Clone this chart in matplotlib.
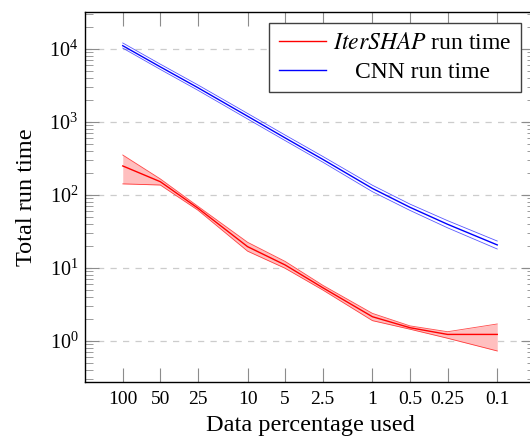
import matplotlib
matplotlib.use("Agg")
import matplotlib.pyplot as plt
import numpy as np

# Data
pct = [100, 50, 25, 10, 5, 2.5, 1, 0.5, 0.25, 0.1]
pct_labels = ["100", "50", "25", "10", "5", "2.5", "1", "0.5", "0.25", "0.1"]

iter_mean = [250, 152, 66, 19.6, 11.0, 5.37, 2.15, 1.52, 1.23, 1.23]
iter_upper = [353, 166, 70, 22.5, 12.3, 5.8, 2.39, 1.61, 1.34, 1.71]
iter_lower = [142, 137, 62, 17.0, 9.9, 5.0, 1.90, 1.45, 1.09, 0.73]

cnn_mean = [11100, 5690, 2950, 1200, 605, 308, 123, 67.8, 39.7, 20.7]
cnn_upper = [12100, 6200, 3220, 1310, 662, 338, 136, 75, 44.5, 23.4]
cnn_lower = [10300, 5250, 2720, 1100, 556, 282, 111, 61.5, 35.5, 18.2]

plt.rcParams['font.family'] = ['Liberation Serif', 'DejaVu Serif']
plt.rcParams['mathtext.fontset'] = 'stix'
FS_TICK = 14
FS_LABEL = 17.5
FS_LEG = 17

fig = plt.figure(figsize=(5.30, 4.42), dpi=100)
ax = fig.add_axes([85.3/530, (442-382.3)/442, 449.4/530, 370.6/442])

ax.set_xscale('log')
ax.set_yscale('log')

# IterSHAP
ax.fill_between(pct, iter_lower, iter_upper, color=(1.0, 0.75, 0.75), lw=0, zorder=2)
ax.plot(pct, iter_upper, color='red', lw=0.6, alpha=0.7, zorder=3)
ax.plot(pct, iter_lower, color='red', lw=0.6, alpha=0.7, zorder=3)
l1, = ax.plot(pct, iter_mean, color='red', lw=1.0, zorder=4)

# CNN
ax.plot(pct, cnn_upper, color='blue', lw=0.6, alpha=0.65, zorder=3)
ax.plot(pct, cnn_lower, color='blue', lw=0.6, alpha=0.65, zorder=3)
l2, = ax.plot(pct, cnn_mean, color='blue', lw=1.0, zorder=4)

ax.set_xlim(10**2.3, 10**-1.3)
ax.set_ylim(10**-0.566, 10**4.511)

ax.set_xticks(pct)
ax.set_xticklabels(pct_labels)
ax.xaxis.set_minor_locator(matplotlib.ticker.NullLocator())
ax.tick_params(axis='x', which='major', direction='in', length=10, width=0.8,
               color=(0.55, 0.55, 0.55), top=True, bottom=True, labelsize=FS_TICK, pad=6)

ax.yaxis.set_major_locator(matplotlib.ticker.LogLocator(base=10, numticks=20))
ax.yaxis.set_minor_locator(matplotlib.ticker.LogLocator(base=10, subs=np.arange(2, 10), numticks=20))
ax.yaxis.set_minor_formatter(matplotlib.ticker.NullFormatter())
ax.tick_params(axis='y', which='major', direction='in', length=10, width=0.8,
               color=(0.55, 0.55, 0.55), left=True, right=True, labelsize=FS_TICK + 0.5, pad=5)
ax.tick_params(axis='y', which='minor', direction='in', length=6, width=0.6,
               color=(0.55, 0.55, 0.55), left=True, right=True)

ax.grid(True, axis='y', which='major', linestyle=(0, (5, 5)), color=(0.8, 0.8, 0.8), lw=0.9)
ax.set_axisbelow(True)

for s in ax.spines.values():
    s.set_linewidth(1.0)
    s.set_color('black')

ax.set_xlabel("Data percentage used", fontsize=FS_LABEL, labelpad=5)
ax.set_ylabel("Total run time", fontsize=FS_LABEL, labelpad=9)

leg = ax.legend([l1, l2], [r"$\it{IterSHAP}$ run time", "CNN run time"],
                loc='upper right', bbox_to_anchor=(0.969, 0.969), borderaxespad=0,
                fontsize=FS_LEG, fancybox=False, framealpha=1, edgecolor=(0.25, 0.25, 0.25),
                handlelength=2.0, handletextpad=0.3, borderpad=0.4, labelspacing=0.3)
leg.get_frame().set_linewidth(1.0)

fig.canvas.draw()
texts = leg.get_texts()
r = fig.canvas.get_renderer()
w1 = texts[0].get_window_extent(r).width
w2 = texts[1].get_window_extent(r).width
texts[1].set_x(texts[1].get_position()[0] + (w1 - w2) / 2)

fig.savefig("out.png", dpi=100)
